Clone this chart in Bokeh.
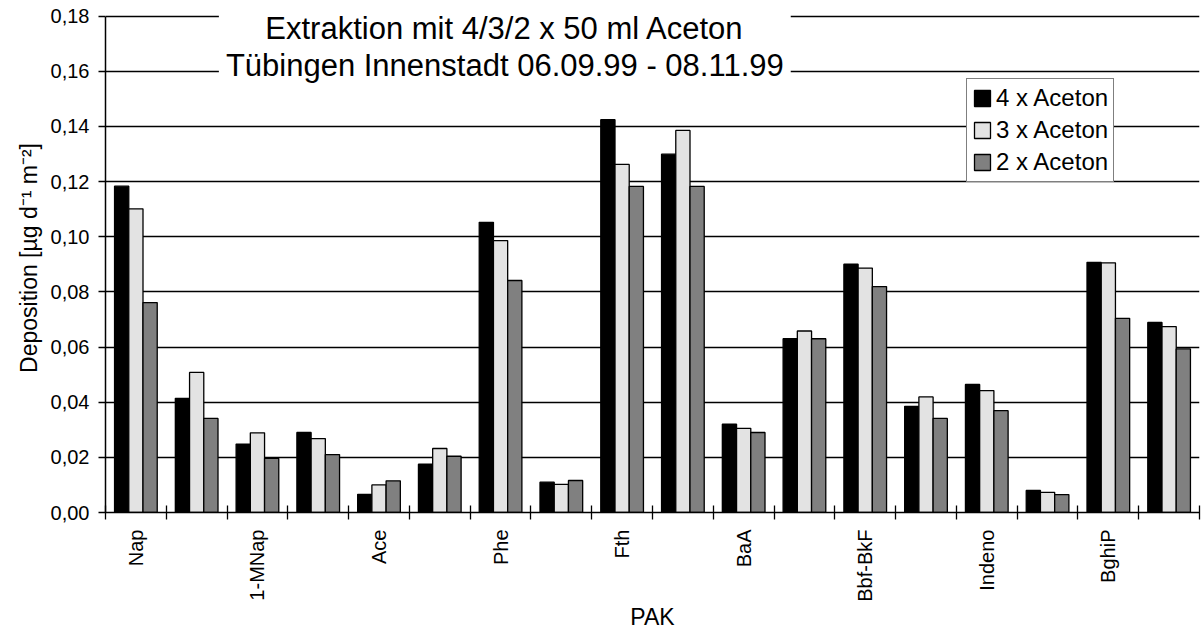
import math
from bokeh.plotting import figure
from bokeh.models import (ColumnDataSource, FixedTicker, CustomJSTickFormatter,
                          Label, Legend, LegendItem)
from bokeh.transform import dodge
from bokeh.embed import file_html
from bokeh.resources import INLINE

# ---------------- data ----------------
tick_labels = ["Nap", "", "1-MNap", "", "Ace", "", "Phe", "", "Fth", "",
               "BaA", "", "Bbf-BkF", "", "Indeno", "", "BghiP", ""]
aceton4 = [0.1183, 0.0414, 0.0248, 0.0290, 0.0066, 0.0175, 0.1052, 0.0110, 0.1424,
           0.1299, 0.0320, 0.0630, 0.0900, 0.0385, 0.0464, 0.0080, 0.0907, 0.0689]
aceton3 = [0.1101, 0.0508, 0.0289, 0.0268, 0.0100, 0.0232, 0.0986, 0.0102, 0.1262,
           0.1385, 0.0305, 0.0658, 0.0886, 0.0419, 0.0442, 0.0073, 0.0905, 0.0674]
aceton2 = [0.0761, 0.0341, 0.0196, 0.0210, 0.0115, 0.0204, 0.0841, 0.0116, 0.1182,
           0.1182, 0.0290, 0.0630, 0.0819, 0.0341, 0.0369, 0.0065, 0.0704, 0.0593]
series_names = ["4 x Aceton", "3 x Aceton", "2 x Aceton"]
series_colors = ["#000000", "#e3e3e3", "#808080"]
y_ticks = [0.00, 0.02, 0.04, 0.06, 0.08, 0.10, 0.12, 0.14, 0.16, 0.18]
title_lines = ["Extraktion mit 4/3/2 x 50 ml Aceton",
               "Tübingen Innenstadt 06.09.99 - 08.11.99"]
x_title = "PAK"
y_title = "Deposition [µg d⁻¹ m⁻²]"

n = len(tick_labels)
centers = [i + 0.5 for i in range(n)]
bounds = [float(i) for i in range(n + 1)]

FONT = "Liberation Sans"
YMAX = 0.18 * 509 / 496.5

source = ColumnDataSource(dict(x=centers, a4=aceton4, a3=aceton3, a2=aceton2))

p = figure(width=1203, height=632, x_range=(0, n), y_range=(0, YMAX),
           output_backend="svg", toolbar_location=None,
           min_border_left=105, min_border_right=4, min_border_top=3,
           min_border_bottom=120)
p.outline_line_color = None
p.background_fill_color = "white"

# grid
p.xgrid.visible = False
p.ygrid.ticker = FixedTicker(ticks=y_ticks)
p.ygrid.grid_line_color = "black"
p.ygrid.grid_line_width = 1.3

# bars
bw = 0.234
cols = ["a4", "a3", "a2"]
offsets = [-bw, 0.0, bw]
renderers = []
for c, off, col, name in zip(cols, offsets, series_colors, series_names):
    r = p.vbar(x=dodge("x", off), top=c, width=bw, bottom=0, source=source,
               fill_color=col, line_color="black", line_width=1.3)
    renderers.append((name, r))

# y axis
yax = p.yaxis[0]
yax.ticker = FixedTicker(ticks=y_ticks)
yax.formatter = CustomJSTickFormatter(code="return tick.toFixed(2).replace('.', ',');")
yax.bounds = (0, 0.18)
yax.axis_line_color = "black"
yax.axis_line_width = 1.5
yax.major_tick_in = 0
yax.major_tick_out = 7
yax.major_tick_line_width = 1.3
yax.minor_tick_line_color = None
yax.major_label_text_font = FONT
yax.major_label_text_font_size = "20px"
yax.major_label_text_color = "black"
yax.major_label_standoff = 9
yax.axis_label = y_title
yax.axis_label_text_font = FONT
yax.axis_label_text_font_size = "23px"
yax.axis_label_text_font_style = "normal"
yax.axis_label_text_color = "black"
yax.axis_label_standoff = 6

# x axis
xax = p.xaxis[0]
xax.ticker = FixedTicker(ticks=centers, minor_ticks=bounds)
xax.formatter = CustomJSTickFormatter(args=dict(labels=tick_labels),
                                      code="return labels[Math.floor(tick)];")
xax.axis_line_color = "black"
xax.axis_line_width = 1.5
xax.major_tick_in = 0
xax.major_tick_out = 0
xax.minor_tick_in = 7
xax.minor_tick_out = 7
xax.minor_tick_line_color = "black"
xax.minor_tick_line_width = 1.3
xax.major_label_orientation = math.pi / 2
xax.major_label_text_font = FONT
xax.major_label_text_font_size = "20px"
xax.major_label_text_color = "black"
xax.major_label_standoff = 10
xax.axis_label = x_title
xax.axis_label_text_font = FONT
xax.axis_label_text_font_size = "23px"
xax.axis_label_text_font_style = "normal"
xax.axis_label_text_color = "black"
xax.axis_label_standoff = -1

# title box
title = Label(x=6.57, y=YMAX, text="\n".join(title_lines),
              text_font=FONT, text_font_size="31px", text_align="center",
              text_baseline="top", text_line_height=1.08, text_color="black",
              background_fill_color="white", padding=7)
p.add_layout(title)

# legend
legend = Legend(items=[LegendItem(label=nm, renderers=[r]) for nm, r in renderers],
                location=(861, 330), orientation="vertical",
                label_text_font=FONT, label_text_font_size="24px",
                label_text_color="black",
                glyph_width=20, glyph_height=20, label_height=28,
                label_standoff=4, padding=5, spacing=4, margin=0,
                border_line_color="black", border_line_width=1.5,
                background_fill_color="white", background_fill_alpha=1.0)
p.add_layout(legend)

open("out.html", "w").write(file_html(p, INLINE))
